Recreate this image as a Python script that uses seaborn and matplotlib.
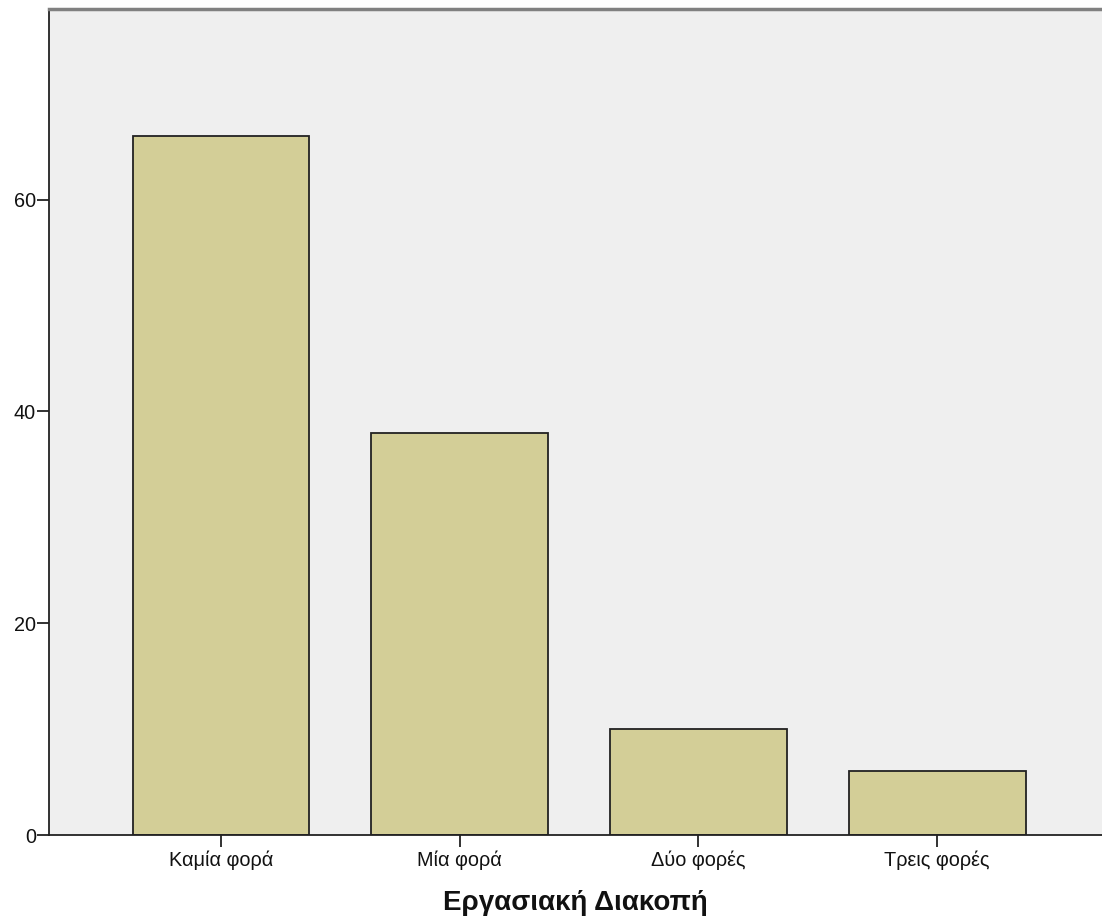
import matplotlib
matplotlib.use("Agg")
import matplotlib.pyplot as plt
import pandas as pd
import seaborn as sns

# values
categories = ["Καμία φορά", "Μία φορά", "Δύο φορές", "Τρεις φορές"]
counts = [66, 38, 10, 6]
y_ticks = [0, 20, 40, 60]
x_title = "Εργασιακή Διακοπή"

BAR_COLOR = "#D3CE97"
BG_COLOR = "#EFEFEF"

sns.set_style("white")
plt.rcParams["font.family"] = ["Liberation Sans", "DejaVu Sans"]

df = pd.DataFrame({"category": categories, "count": counts})

fig = plt.figure(figsize=(11.02, 9.21), dpi=100)
ax = fig.add_axes([49 / 1102, 1 - 835 / 921, 1 - 49 / 1102, (835 - 9) / 921])
ax.set_facecolor(BG_COLOR)

sns.barplot(
    data=df, x="category", y="count", order=categories,
    color=BAR_COLOR, saturation=1, width=0.74,
    edgecolor="#222222", linewidth=1.3, ax=ax,
)

ax.set_xlim(-0.72, 3.69)
ax.set_ylim(0, 78)
ax.set_yticks(y_ticks)
ax.set_ylabel("")
ax.set_xlabel(x_title, fontsize=20, fontweight="bold", labelpad=14, color="#111111")

ax.tick_params(axis="both", length=8.5, width=1.3, color="#222222",
               labelsize=14.3, labelcolor="#111111", direction="out",
               bottom=True, left=True)
ax.tick_params(axis="y", pad=1)
ax.tick_params(axis="x", pad=3)

ax.spines["right"].set_visible(False)
ax.spines["top"].set_color("#808080")
ax.spines["top"].set_linewidth(2.5)
for side in ["left", "bottom"]:
    ax.spines[side].set_color("#222222")
    ax.spines[side].set_linewidth(1.3)

fig.savefig("out.png", dpi=100)
plt.close(fig)
